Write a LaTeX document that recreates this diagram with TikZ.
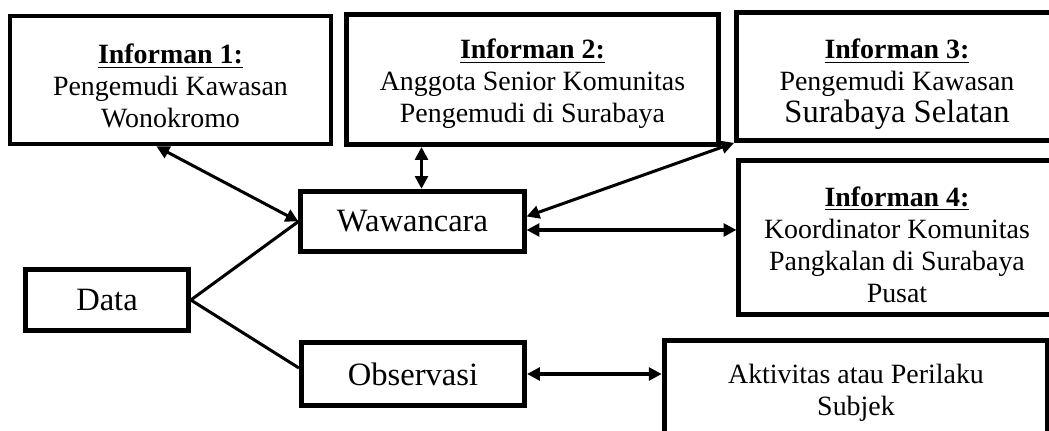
\documentclass[tikz,border=0pt]{standalone}
\usepackage{fontspec}
\setmainfont{Liberation Serif}
\usetikzlibrary{arrows.meta,calc}

\newcommand{\boxtext}[2]{\raisebox{#1}[\height][\depth]{%
  \begin{tabular}{@{}c@{}}#2\end{tabular}}}

\begin{document}
\begin{tikzpicture}[
    x=0.43pt, y=-0.43pt,
    font=\fontsize{12}{13.8}\selectfont,
    box/.style={draw, line width=2.1pt, align=center, inner sep=0pt},
    big/.style={font=\fontsize{14}{16}\selectfont},
    biarrow/.style={{Triangle[length=5.5pt,width=5.5pt]}-{Triangle[length=5.5pt,width=5.5pt]}, line width=1.3pt},
    link/.style={line width=1.3pt}
  ]
  \useasboundingbox (0,0) rectangle (1049,431);
  \clip (0,0) rectangle (1049,431);

  \node[box, minimum width=138pt, minimum height=55pt] (inf1) at (170.5,80)
    {\boxtext{-4pt}{\underline{\textbf{Informan 1:}}\\
     Pengemudi Kawasan\\
     Wonokromo}};

  \node[box, minimum width=160pt, minimum height=56pt] (inf2) at (532.5,79.5)
    {\boxtext{-2pt}{\underline{\textbf{Informan 2:}}\\
     Anggota Senior Komunitas\\
     Pengemudi di Surabaya}};

  \node[box, minimum width=138pt, minimum height=55pt] (inf3) at (897,76.5)
    {\boxtext{-3.4pt}{\underline{\textbf{Informan 3:}}\\
     Pengemudi Kawasan\\
     {\fontsize{14}{15}\selectfont Surabaya Selatan}}};

  \node[box, minimum width=136pt, minimum height=66pt] (inf4) at (897,237.5)
    {\boxtext{-4.4pt}{\underline{\textbf{Informan 4:}}\\
     Koordinator Komunitas\\
     Pangkalan di Surabaya\\
     Pusat}};

  \node[box, big, minimum width=96pt, minimum height=26pt] (waw) at (412.5,221.5)
    {Wawancara};

  \node[box, big, minimum width=70pt, minimum height=26pt] (data) at (107,300)
    {Data};

  \node[box, big, minimum width=96pt, minimum height=27pt] (obs) at (413,374)
    {Observasi};

  \node[box, minimum width=165pt, minimum height=45pt] (akt) at (856,393)
    {Aktivitas atau Perilaku\\
     Subjek};

  \coordinate (wtop) at ($(waw.north)+(9,0)$);
  \coordinate (wup) at ($(waw.east)+(0,-5)$);
  \coordinate (wdown) at ($(waw.east)+(0,8.5)$);
  \coordinate (otop) at ($(obs.west)+(0,-6)$);

  \draw[biarrow] ($(inf1.south)+(-14,0)$) -- (waw.west);
  \draw[biarrow] (wtop) -- (wtop |- inf2.south);
  \draw[biarrow] (wup) -- (inf3.south west);
  \draw[biarrow] (wdown) -- (wdown -| inf4.west);
  \draw[link] (data.east) -- (waw.west);
  \draw[link] (data.east) -- (otop);
  \draw[biarrow] (obs.east) -- (obs.east -| akt.west);
\end{tikzpicture}
\end{document}
